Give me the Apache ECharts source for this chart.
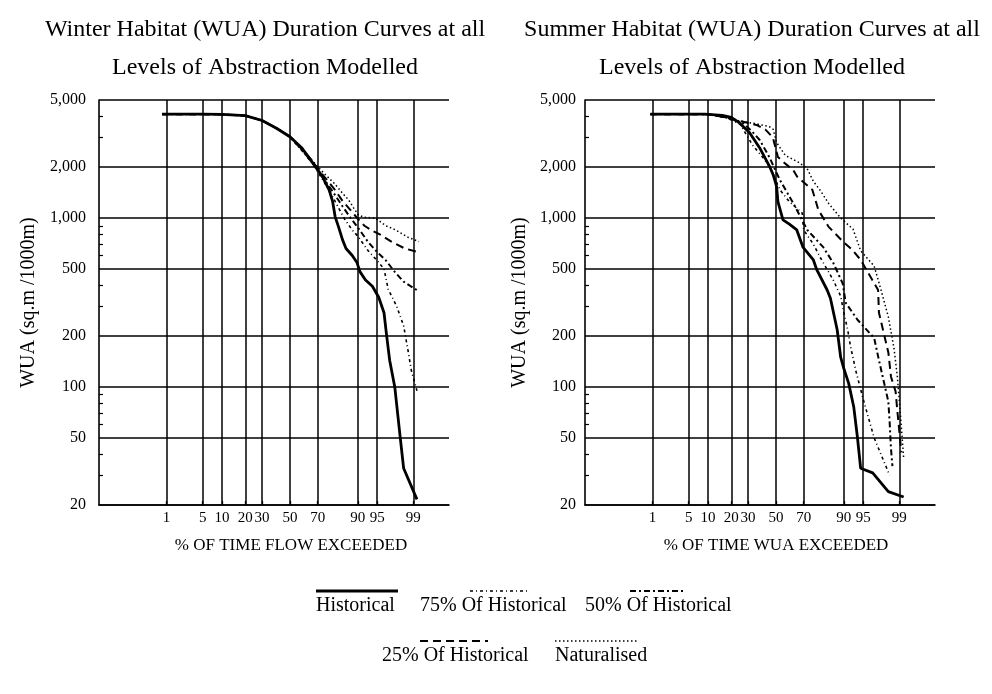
<!DOCTYPE html>
<html>
<head>
<meta charset="utf-8">
<script src="https://cdn.jsdelivr.net/npm/echarts@6.0.0/dist/echarts.min.js"></script>
<style>html,body{margin:0;padding:0;background:#fff}#chart{width:992px;height:694px}</style>
</head>
<body>
<div id="chart"></div>
<script>
var pctTicks = [1, 5, 10, 20, 30, 50, 70, 90, 95, 99];
var wuaTicks = [20, 50, 100, 200, 500, 1000, 2000, 5000];
var wuaMinorTicks = [30, 40, 60, 70, 80, 90, 300, 400, 600, 700, 800, 900, 3000, 4000];
var seriesNames = ['Historical', '75% Of Historical', '50% Of Historical', '25% Of Historical', 'Naturalised'];

// winter panel : [% of time exceeded, WUA]
var winterHistorical = [[0.8,4120],[5,4120],[10,4110],[20,4040],[30,3780],[40,3400],[50,3030],[59,2600],[66,2160],[70,1930],[73,1760],[77,1470],[79,1250],[80.3,1020],[82,890],[84,740],[85.5,660],[88,600],[89.7,545],[90.7,480],[92.3,430],[94,395],[95.3,340],[96.2,275],[96.6,200],[97,144],[97.6,100],[98.1,52],[98.4,33],[99.17,21.6]];
var winter75 = [[0.8,4120],[5,4120],[10,4110],[20,4040],[30,3780],[40,3400],[50,3030],[60,2450],[66,2120],[70,1880],[75,1580],[79,1340],[82,1150],[85,980],[88,850],[90,780],[93,640],[95,560],[96.2,500],[96.8,380],[97.8,300],[98.4,230],[98.7,165],[98.9,125],[99.17,95]];
var winter50 = [[0.8,4120],[5,4120],[10,4110],[20,4040],[30,3780],[40,3400],[50,3030],[60,2480],[66,2150],[70,1920],[75,1650],[80,1380],[84,1170],[87,1020],[90,880],[93,720],[95,630],[96.5,560],[97.6,480],[98.4,420],[99.2,372]];
var winter25 = [[0.8,4120],[5,4120],[10,4110],[20,4040],[30,3780],[40,3400],[50,3040],[60,2500],[66,2200],[70,1960],[75,1720],[80,1480],[84,1260],[87,1130],[90.2,980],[92,900],[94,840],[95.5,800],[97.3,720],[98.5,660],[99.2,630]];
var winterNatural = [[0.8,4120],[5,4120],[10,4110],[20,4040],[30,3780],[40,3410],[50,3050],[60,2500],[65,2260],[70.5,1990],[75,1800],[80,1600],[84,1400],[86.6,1280],[88.5,1150],[90.2,1040],[92,1010],[94.6,1000],[96.5,900],[97.7,850],[98.7,770],[99.25,725]];

// summer panel : [% of time exceeded, WUA]
var summerHistorical = [[0.9,4120],[9,4120],[15.6,4060],[20,3950],[24.6,3660],[31,3200],[38,2600],[45.5,2000],[48,1800],[50.5,1540],[51.5,1250],[55.3,975],[60,920],[65.3,850],[69.6,670],[76,565],[78,493],[83.3,375],[84.8,335],[87.6,218],[88.9,150],[89.9,130],[91.5,105],[92.9,76],[93.8,50],[94.5,33],[96.6,31],[98.3,24],[99.2,22.3]];
var summer75 = [[0.9,4120],[10,4120],[17,3950],[25,3600],[33,2700],[40,2300],[45.5,2000],[53,1470],[60,1250],[69,1070],[70,850],[76,700],[80,580],[86,430],[88.9,345],[89.9,280],[91.2,218],[92,175],[93.4,125],[95,85],[96.8,50],[98.4,30]];
var summer50 = [[0.9,4120],[10,4120],[17,3950],[26.5,3660],[32,3300],[38,2900],[45,2300],[53,1680],[62.7,1230],[72.3,850],[81.5,670],[86.1,540],[89.6,410],[90.6,315],[93.8,250],[96.8,195],[97.4,144],[97.8,115],[98.3,82],[98.4,62],[98.5,43],[98.6,34]];
var summer25 = [[0.9,4120],[10,4120],[17,3950],[25,3750],[35.7,3560],[42,3350],[47.7,3000],[51.5,2300],[57,2100],[62.7,1930],[65.5,1760],[75.4,1470],[78.8,1120],[83.9,890],[89.9,720],[92.5,650],[94.5,565],[97.3,375],[97.4,275],[98.3,160],[98.5,115],[98.8,94],[98.9,72],[99.1,41]];
var summerNatural = [[0.9,4120],[10,4120],[17,3950],[25,3750],[35,3620],[45,3480],[48,3350],[50.5,2800],[57,2350],[66,2150],[72,1980],[76,1650],[80,1450],[84,1220],[88.9,1000],[92.7,860],[94.5,640],[96.8,520],[97.6,380],[98.3,260],[98.7,170],[98.9,115],[99.05,70],[99.2,38]];

var FONT = "'Liberation Serif', 'DejaVu Serif', serif";

// inverse normal cdf (probability paper scale)
function probit(p) {
  var a = [-3.969683028665376e+01, 2.209460984245205e+02, -2.759285104469687e+02, 1.383577518672690e+02, -3.066479806614716e+01, 2.506628277459239e+00];
  var b = [-5.447609879822406e+01, 1.615858368580409e+02, -1.556989798598866e+02, 6.680131188771972e+01, -1.328068155288572e+01];
  var c = [-7.784894002430293e-03, -3.223964580411365e-01, -2.400758277161838e+00, -2.549732539343734e+00, 4.374664141464968e+00, 2.938163982698783e+00];
  var d = [7.784695709041462e-03, 3.224671290700398e-01, 2.445134137142996e+00, 3.754408661907416e+00];
  var pl = 0.02425, q, r;
  if (p < pl) {
    q = Math.sqrt(-2 * Math.log(p));
    return (((((c[0]*q+c[1])*q+c[2])*q+c[3])*q+c[4])*q+c[5]) / ((((d[0]*q+d[1])*q+d[2])*q+d[3])*q+1);
  }
  if (p <= 1 - pl) {
    q = p - 0.5; r = q * q;
    return (((((a[0]*r+a[1])*r+a[2])*r+a[3])*r+a[4])*r+a[5])*q / (((((b[0]*r+b[1])*r+b[2])*r+b[3])*r+b[4])*r+1);
  }
  q = Math.sqrt(-2 * Math.log(1 - p));
  return -(((((c[0]*q+c[1])*q+c[2])*q+c[3])*q+c[4])*q+c[5]) / ((((d[0]*q+d[1])*q+d[2])*q+d[3])*q+1);
}

function toPlot(arr) {
  return arr.map(function (d) { return [probit(d[0] / 100), Math.log10(d[1])]; });
}

var pctTickZ = pctTicks.map(function (p) { return probit(p / 100); });
var wuaTickLog = wuaTicks.map(function (v) { return Math.log10(v); });
var wuaMinorLog = wuaMinorTicks.map(function (v) { return Math.log10(v); });

var lineStyles = [
  {color: '#000', width: 2.8, type: 'solid'},
  {color: '#000', width: 1.6, type: [3, 3, 1, 3]},
  {color: '#000', width: 2, type: [6, 3, 2, 3]},
  {color: '#000', width: 2, type: [8, 5]},
  {color: '#000', width: 1.5, type: [1.5, 2.5]}
];

function xAxisFor(gridIndex, name, namePad) {
  return {
    type: 'value', gridIndex: gridIndex, min: -3.6, max: 3.0,
    name: name, nameLocation: 'middle', nameGap: 32,
    nameTextStyle: {fontFamily: FONT, fontSize: 17, color: '#000', padding: [0, 0, 0, namePad]},
    axisLine: {onZero: false, lineStyle: {color: '#000', width: 1.6}},
    axisTick: {show: true, customValues: pctTickZ, inside: true, length: 4, lineStyle: {color: '#000', width: 1.3}},
    axisLabel: {
      customValues: pctTickZ, margin: 6, fontFamily: FONT, fontSize: 15, color: '#000',
      formatter: function (v) {
        for (var i = 0; i < pctTicks.length; i++) {
          if (Math.abs(pctTickZ[i] - v) < 1e-6) return String(pctTicks[i]);
        }
        return '';
      }
    },
    splitLine: {show: true, lineStyle: {color: '#000', width: 1.5}}
  };
}

function yAxisFor(gridIndex, labelMargin, nameGap) {
  return {
    type: 'value', gridIndex: gridIndex, min: Math.log10(20), max: Math.log10(5000),
    name: 'WUA (sq.m /1000m)', nameLocation: 'middle', nameGap: nameGap, nameRotate: 90,
    nameTextStyle: {fontFamily: FONT, fontSize: 20, color: '#000'},
    axisLine: {show: true, onZero: false, lineStyle: {color: '#000', width: 1.6}},
    axisTick: {show: false, customValues: wuaTickLog},
    axisLabel: {
      customValues: wuaTickLog, margin: labelMargin, fontFamily: FONT, fontSize: 16, color: '#000',
      formatter: function (v) { return Math.round(Math.pow(10, v)).toLocaleString('en-US'); }
    },
    splitLine: {show: true, lineStyle: {color: '#000', width: 1.5}}
  };
}

function minorAxisFor(gridIndex) {
  return {
    type: 'value', gridIndex: gridIndex, position: 'left', min: Math.log10(20), max: Math.log10(5000),
    axisLine: {show: false, onZero: false},
    axisTick: {show: true, inside: true, length: 4, customValues: wuaMinorLog, lineStyle: {color: '#000', width: 1.2}},
    axisLabel: {show: false},
    splitLine: {show: false}
  };
}

var winterSets = [winterHistorical, winter75, winter50, winter25, winterNatural];
var summerSets = [summerHistorical, summer75, summer50, summer25, summerNatural];

var series = [];
winterSets.forEach(function (arr, i) {
  series.push({name: seriesNames[i], type: 'line', xAxisIndex: 0, yAxisIndex: 0, data: toPlot(arr),
    showSymbol: false, lineStyle: lineStyles[i], z: 10 - i});
});
summerSets.forEach(function (arr, i) {
  series.push({name: seriesNames[i], type: 'line', xAxisIndex: 1, yAxisIndex: 2, data: toPlot(arr),
    showSymbol: false, lineStyle: lineStyles[i], z: 10 - i});
});

// legend: sample line above each label
var legendItems = [
  {label: seriesNames[0], tx: 316, ty: 607, lx1: 316, lx2: 398},
  {label: seriesNames[1], tx: 420, ty: 607, lx1: 470, lx2: 530},
  {label: seriesNames[2], tx: 585, ty: 607, lx1: 630, lx2: 685},
  {label: seriesNames[3], tx: 382, ty: 657, lx1: 420, lx2: 488},
  {label: seriesNames[4], tx: 555, ty: 657, lx1: 555, lx2: 638}
];
var graphics = [];
legendItems.forEach(function (it, i) {
  graphics.push({type: 'text', left: it.tx, top: it.ty - 11,
    style: {text: it.label, font: '20px ' + FONT, fill: '#000'}});
  graphics.push({type: 'line', shape: {x1: it.lx1, y1: it.ty - 16, x2: it.lx2, y2: it.ty - 16},
    style: {stroke: '#000', lineWidth: lineStyles[i].width, lineDash: lineStyles[i].type === 'solid' ? null : lineStyles[i].type}});
});

var chart = echarts.init(document.getElementById('chart'));
chart.setOption({
  animation: false,
  backgroundColor: '#fff',
  title: [
    {text: 'Winter Habitat (WUA) Duration Curves at all\nLevels of Abstraction Modelled', left: 260, top: 6, textAlign: 'center',
      textStyle: {fontFamily: FONT, fontSize: 24, fontWeight: 'normal', color: '#000', lineHeight: 38}},
    {text: 'Summer Habitat (WUA) Duration Curves at all\nLevels of Abstraction Modelled', left: 747, top: 6, textAlign: 'center',
      textStyle: {fontFamily: FONT, fontSize: 24, fontWeight: 'normal', color: '#000', lineHeight: 38}}
  ],
  grid: [
    {left: 99, top: 100, width: 350, height: 405},
    {left: 585, top: 100, width: 350, height: 405}
  ],
  xAxis: [
    xAxisFor(0, '% OF TIME FLOW EXCEEDED', 34),
    xAxisFor(1, '% OF TIME WUA EXCEEDED', 32)
  ],
  yAxis: [
    yAxisFor(0, 13, 60),
    minorAxisFor(0),
    yAxisFor(1, 9, 55),
    minorAxisFor(1)
  ],
  series: series,
  graphic: graphics
});
</script>
</body>
</html>
